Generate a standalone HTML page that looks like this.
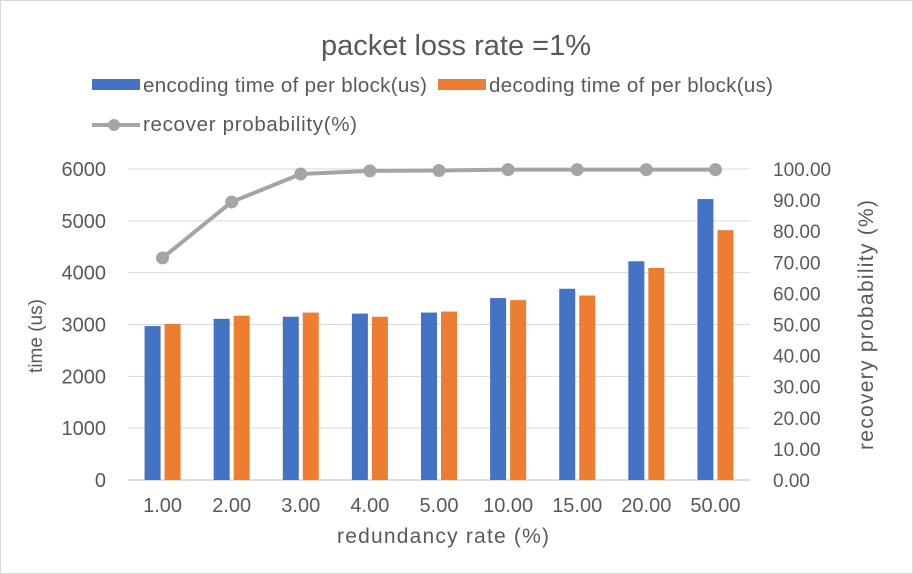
<!DOCTYPE html>
<html><head><meta charset="utf-8"><style>
html,body{margin:0;padding:0;background:#fff;}
svg{display:block;font-family:"Liberation Sans","Noto Sans CJK SC",sans-serif;}
</style></head><body>
<svg id="chart" width="913" height="574">
<rect x="0.5" y="0.5" width="912" height="573" fill="#fff" stroke="#d9d9d9"/>
<text x="456" y="55" font-size="29" fill="#595959" text-anchor="middle">packet loss rate =1%</text>
<g>
<rect x="92" y="79" width="48" height="11" fill="#4472c4"/>
<text x="143" y="92" font-size="20.5" fill="#595959" textLength="284">encoding time of per block(us)</text>
<rect x="438" y="79" width="48" height="11" fill="#ed7d31"/>
<text x="489" y="92" font-size="20.5" fill="#595959" textLength="284">decoding time of per block(us)</text>
<line x1="92" y1="125" x2="140" y2="125" stroke="#a5a5a5" stroke-width="4"/>
<circle cx="114" cy="125" r="6" fill="#a5a5a5"/>
<text x="143" y="131" font-size="20.5" fill="#595959" textLength="214">recover probability(%)</text>
</g>
<g id="plot"></g>
<text x="42" y="336" font-size="19" fill="#595959" text-anchor="middle" transform="rotate(-90 42 336)">time (us)</text>
<text x="873" y="325" font-size="21" fill="#595959" text-anchor="middle" textLength="250" transform="rotate(-90 873 325)">recovery probability (%)</text>
<text x="443" y="543" font-size="21" fill="#595959" text-anchor="middle" textLength="212">redundancy rate (%)</text>
</svg>
<script>
const categories=["1.00","2.00","3.00","4.00","5.00","10.00","15.00","20.00","50.00"];
const encoding=[2970,3110,3150,3210,3230,3510,3690,4220,5420];
const decoding=[3010,3170,3230,3150,3250,3470,3560,4090,4820];
const recover=[71.4,89.4,98.4,99.4,99.5,99.8,99.8,99.8,99.8];
const yTicks=[0,1000,2000,3000,4000,5000,6000];
const y2Ticks=["0.00","10.00","20.00","30.00","40.00","50.00","60.00","70.00","80.00","90.00","100.00"];
const NS="http://www.w3.org/2000/svg";
const g=document.getElementById('plot');
const x0=128,x1=750,yTop=169,yBot=480;
const band=(x1-x0)/categories.length;
const y=v=>yBot-(v/6000)*(yBot-yTop);
const y2=v=>yBot-(v/100)*(yBot-yTop);
function mk(t,a){const e=document.createElementNS(NS,t);for(const k in a)e.setAttribute(k,a[k]);g.appendChild(e);return e;}
yTicks.forEach(v=>{
  const l=mk('line',{x1:x0,x2:x1,y1:y(v),y2:y(v),stroke:v===0?'#bfbfbf':'#d9d9d9','stroke-width':1});
  
  
  const t=mk('text',{x:106,y:y(v)+7,'font-size':20,fill:'#595959','text-anchor':'end'});
  t.textContent=v;
  
  
});
y2Ticks.forEach(s=>{
  const t=mk('text',{x:773,y:y2(parseFloat(s))+7,'font-size':19,fill:'#595959'});
  t.textContent=s;
  
  
});
const bw=16,gap=4;
categories.forEach((c,i)=>{
  const cx=x0+band*(i+0.5);
  const b1=mk('rect',{x:cx-gap/2-bw,y:y(encoding[i]),width:bw,height:yBot-y(encoding[i]),fill:'#4472c4'});
  
  
  const b2=mk('rect',{x:cx+gap/2,y:y(decoding[i]),width:bw,height:yBot-y(decoding[i]),fill:'#ed7d31'});
  
  
  const t=mk('text',{x:cx,y:512,'font-size':20,fill:'#595959','text-anchor':'middle'});
  t.textContent=c;
  
  
});
const pts=recover.map((v,i)=>(x0+band*(i+0.5))+','+y2(v)).join(' ');
const pl=mk('polyline',{points:pts,fill:'none',stroke:'#a5a5a5','stroke-width':4,'stroke-linejoin':'round'});


recover.forEach((v,i)=>{
  const c=mk('circle',{cx:x0+band*(i+0.5),cy:y2(v),r:6.5,fill:'#a5a5a5'});
  
  
});
</script>
</body></html>
